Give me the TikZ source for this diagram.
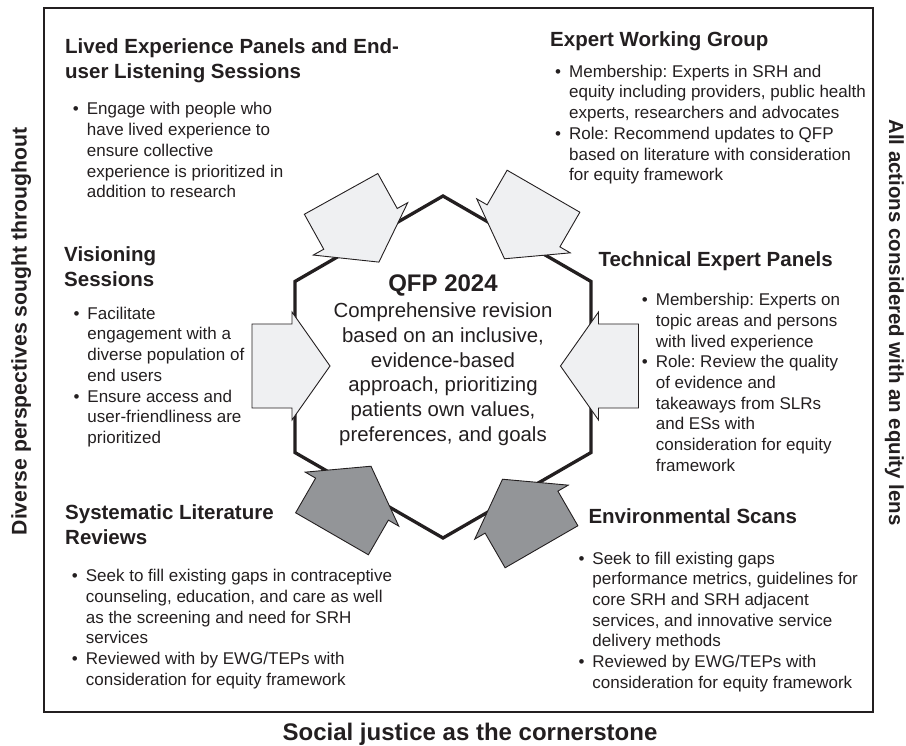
\documentclass[tikz,border=0pt]{standalone}
\usepackage{fontspec}
\setmainfont{Liberation Sans}
\usepackage{tikz}
\usetikzlibrary{calc}
\definecolor{inkc}{HTML}{231F20}
\definecolor{lightfill}{HTML}{EFF0F2}
\definecolor{darkfill}{HTML}{939598}
\frenchspacing
\newcommand{\headlines}[1]{\begin{tabular}[t]{@{}l@{}}#1\end{tabular}}
\newcommand{\bulletlines}[1]{\begin{tabular}[t]{@{}l@{\hspace{8pt}}l@{}}#1\end{tabular}}
\tikzset{
         heading/.style={inner sep=0pt, anchor=base west, text=inkc,
                         font=\fontsize{20.5}{25}\selectfont\bfseries},
         bodytext/.style={inner sep=0pt, anchor=base west, text=inkc,
                          font=\fontsize{17}{20.7}\selectfont},
         sidelabel/.style={inner sep=0pt, anchor=base, text=inkc},
         hexline/.style={draw=inkc, line width=3.3pt},
         lightarrow/.style={fill=lightfill, draw=inkc, line width=0.9pt},
         darkarrow/.style={fill=darkfill, draw=inkc, line width=0.9pt},
         blockarrow/.pic={\path[pic actions] (-39,-42) -- (1,-42) -- (1,-54) -- (39,0)
                           -- (1,54) -- (1,42) -- (-39,42) -- cycle;}
        }
\begin{document}
\begin{tikzpicture}[x=1pt,y=-1pt]
\useasboundingbox (0,0) rectangle (906,746);
\draw[draw=inkc, line width=1.4pt] (44,8) rectangle (873,712); % frame
\coordinate (hub) at (443,367); % centre of hexagon
\draw[hexline, shift={(hub)}] (90:171) -- (30:171) -- (-30:171) -- (-90:171)
      -- (-150:171) -- (150:171) -- cycle; % hexagon
\pic[lightarrow, rotate=-61] (livedarr) at (360,228) {blockarrow}; % lived experience arrow
\pic[lightarrow, rotate=-120] (ewgarr) at (524,225) {blockarrow}; % expert group arrow
\pic[lightarrow, rotate=0] (visarr) at (291,366) {blockarrow}; % visioning arrow
\pic[lightarrow, rotate=180] (teparr) at (599.5,366) {blockarrow}; % TEP arrow
\pic[darkarrow, rotate=60] (slrarr) at (351.5,500) {blockarrow}; % SLR arrow
\pic[darkarrow, rotate=120] (envarr) at (522,513) {blockarrow}; % scans arrow
\node[sidelabel, anchor=base, font=\fontsize{24}{28}\selectfont\bfseries] (qfp) at (443,291.7) {QFP 2024}; % title
\node[sidelabel, anchor=base, font=\fontsize{20.4}{24.7}\selectfont] (qfptxt) at (443,317.7)
     {\begin{tabular}[t]{@{}c@{}}Comprehensive revision\\ based on an inclusive,\\ evidence-based\\
      approach, prioritizing\\ patients own values,\\ preferences, and goals\end{tabular}}; % centre text
\node[heading] (lived) at (65,54) {\headlines{Lived Experience Panels and End-\\ user Listening Sessions}}; % lived heading
\node[bodytext] (livedtxt) at (72.7,115) {\bulletlines{\textbullet & Engage with people who\\
      & have lived experience to\\ & ensure collective\\ & experience is prioritized in\\
      & addition to research}}; % lived bullets
\node[heading] (vis) at (64,261.7) {\headlines{Visioning\\ Sessions}}; % visioning heading
\node[bodytext] (vistxt) at (73.3,319.3) {\bulletlines{\textbullet & Facilitate\\
      & engagement with a\\ & diverse population of\\ & end users\\
      \textbullet & Ensure access and\\ & user-friendliness are\\ & prioritized}}; % visioning bullets
\node[heading] (slr) at (65,519.3) {\headlines{Systematic Literature\\ Reviews}}; % SLR heading
\node[bodytext] (slrtxt) at (71.7,581.7) {\bulletlines{\textbullet & Seek to fill existing gaps in contraceptive\\
      & counseling, education, and care as well\\ & as the screening and need for SRH\\ & services\\
      \textbullet & Reviewed with by EWG/TEPs with\\ & consideration for equity framework}}; % SLR bullets
\node[heading] (ewg) at (550,46.7) {\headlines{Expert Working Group}}; % EWG heading
\node[bodytext] (ewgtxt) at (555,77.3) {\bulletlines{\textbullet & Membership: Experts in SRH and\\
      & equity including providers, public health\\ & experts, researchers and advocates\\
      \textbullet & Role: Recommend updates to QFP\\ & based on literature with consideration\\
      & for equity framework}}; % EWG bullets
\node[heading] (tep) at (598.3,266.7) {\headlines{Technical Expert Panels}}; % TEP heading
\node[bodytext] (teptxt) at (641.7,305.7) {\bulletlines{\textbullet & Membership: Experts on\\
      & topic areas and persons\\ & with lived experience\\
      \textbullet & Role: Review the quality\\ & of evidence and\\ & takeaways from SLRs\\
      & and ESs with\\ & consideration for equity\\ & framework}}; % TEP bullets
\node[heading] (env) at (588.3,523.3) {\headlines{Environmental Scans}}; % scans heading
\node[bodytext] (envtxt) at (578.3,564) {\bulletlines{\textbullet & Seek to fill existing gaps\\
      & performance metrics, guidelines for\\ & core SRH and SRH adjacent\\
      & services, and innovative service\\ & delivery methods\\
      \textbullet & Reviewed by EWG/TEPs with\\ & consideration for equity framework}}; % scans bullets
\node[sidelabel, rotate=90, font=\fontsize{21.2}{25}\selectfont\bfseries] (diverse) at (26.7,331.5)
     {Diverse perspectives sought throughout}; % left label
\node[sidelabel, rotate=-90, font=\fontsize{20.4}{25}\selectfont\bfseries] (equity) at (889,322.5)
     {All actions considered with an equity lens}; % right label
\node[sidelabel, font=\fontsize{24}{29}\selectfont\bfseries] (justice) at (470,740)
     {Social justice as the cornerstone}; % bottom label
\end{tikzpicture}
\end{document}
